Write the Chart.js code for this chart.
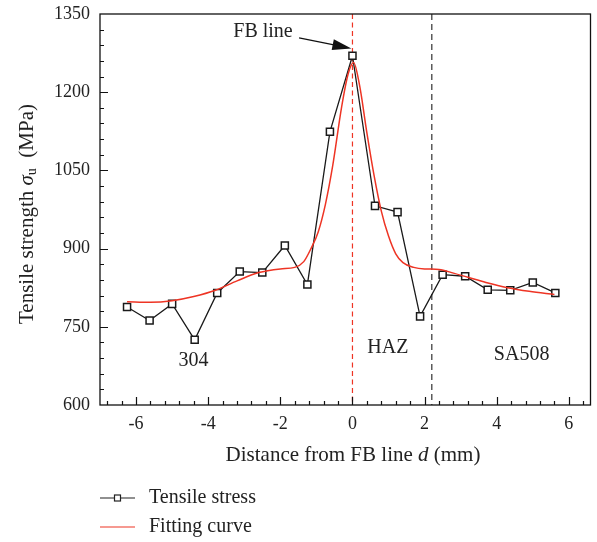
<!DOCTYPE html>
<html>
<head>
<meta charset="utf-8">
<script src="https://cdn.jsdelivr.net/npm/chart.js@4.4.0/dist/chart.umd.min.js"></script>
<style>
  html, body { margin: 0; padding: 0; background: #fff; }
  #wrap { width: 597px; height: 542px; }
</style>
</head>
<body>
<div id="wrap"><canvas id="chart" width="597" height="542"></canvas></div>
<script>
// measured tensile strength across the joint
const distance = [-6.25, -5.625, -5.0, -4.375, -3.75, -3.125, -2.5, -1.875, -1.25, -0.625, 0,
                  0.625, 1.25, 1.875, 2.5, 3.125, 3.75, 4.375, 5.0, 5.625];
const tensile = [788, 762, 794, 725, 815, 856, 854, 906, 831, 1124, 1270,
                 982, 970, 770, 850, 847, 821, 820, 835, 815];

// fitting curve
const fitX = [-6.25, -5.6, -5.0, -4.4, -3.8, -3.2, -2.6, -2.0, -1.6, -1.35, -1.15, -0.95, -0.75, -0.55, -0.3, -0.12, 0.03,
              0.2, 0.4, 0.6, 0.8, 1.0, 1.2, 1.4, 1.7, 2.0, 2.4, 2.8, 3.2, 3.7, 4.3, 4.9, 5.6];
const fitY = [798, 797, 800, 808, 820, 838, 854, 861, 864, 875, 900, 932, 985, 1058, 1172, 1235, 1257,
              1212, 1122, 1040, 972, 924, 890, 873, 864, 861, 860, 853, 845, 835, 825, 818, 812];

const xTicks = [-6, -4, -2, 0, 2, 4, 6];
const yTicks = [600, 750, 900, 1050, 1200, 1350];
const fbLineX = 0;
const hazEdgeX = 2.2;

const FONT = '"Liberation Serif", "Times New Roman", serif';
const RED = "#ee3424";
const TXT = "20px " + FONT;
const TITLE = "21px " + FONT;

const decorations = {
  id: "decorations",
  beforeDatasetsDraw(chart) {
    const { ctx, chartArea: a, scales: { x } } = chart;
    ctx.save();
    ctx.lineWidth = 1.2;
    ctx.setLineDash([5, 3.5]);
    ctx.strokeStyle = RED;
    let px = x.getPixelForValue(fbLineX);
    ctx.beginPath(); ctx.moveTo(px, a.top); ctx.lineTo(px, a.bottom); ctx.stroke();
    ctx.strokeStyle = "#333";
    ctx.setLineDash([6, 4]);
    px = x.getPixelForValue(hazEdgeX);
    ctx.beginPath(); ctx.moveTo(px, a.top); ctx.lineTo(px, a.bottom); ctx.stroke();
    ctx.restore();
  },
  afterDraw(chart) {
    const { ctx, chartArea: a, scales: { x, y } } = chart;
    ctx.save();
    // frame
    ctx.strokeStyle = "#111";
    ctx.lineWidth = 1.3;
    ctx.strokeRect(a.left, a.top, a.right - a.left, a.bottom - a.top);

    // inward ticks
    ctx.lineWidth = 1.2;
    ctx.beginPath();
    for (let v = -6.8; v < 6.5; v += 0.4) {
      const major = Math.abs(v / 2 - Math.round(v / 2)) < 0.01;
      const px = Math.round(x.getPixelForValue(v)) + 0.5;
      ctx.moveTo(px, a.bottom); ctx.lineTo(px, a.bottom - (major ? 8 : 4));
    }
    for (let v = 630; v < 1350; v += 30) {
      const major = v % 150 === 0;
      const py = Math.round(y.getPixelForValue(v)) + 0.5;
      ctx.moveTo(a.left, py); ctx.lineTo(a.left + (major ? 8 : 4), py);
    }
    ctx.stroke();

    ctx.fillStyle = "#222";
    ctx.font = TXT;
    ctx.textAlign = "center";
    ctx.textBaseline = "middle";
    ctx.fillText("304", x.getPixelForValue(-4.41), y.getPixelForValue(685));
    ctx.fillText("HAZ", x.getPixelForValue(0.98), y.getPixelForValue(710));
    ctx.fillText("SA508", x.getPixelForValue(4.69), y.getPixelForValue(697));

    // FB line label + arrow
    ctx.fillText("FB line", x.getPixelForValue(-2.48), y.getPixelForValue(1316));
    const x0 = x.getPixelForValue(-1.48), y0 = y.getPixelForValue(1304);
    const x1 = x.getPixelForValue(-0.03), y1 = y.getPixelForValue(1284);
    const ang = Math.atan2(y1 - y0, x1 - x0);
    ctx.strokeStyle = "#111";
    ctx.lineWidth = 1.3;
    ctx.beginPath(); ctx.moveTo(x0, y0); ctx.lineTo(x1 - 14 * Math.cos(ang), y1 - 14 * Math.sin(ang)); ctx.stroke();
    ctx.beginPath();
    ctx.moveTo(x1, y1);
    ctx.lineTo(x1 - 19 * Math.cos(ang) + 5.5 * Math.sin(ang), y1 - 19 * Math.sin(ang) - 5.5 * Math.cos(ang));
    ctx.lineTo(x1 - 19 * Math.cos(ang) - 5.5 * Math.sin(ang), y1 - 19 * Math.sin(ang) + 5.5 * Math.cos(ang));
    ctx.closePath();
    ctx.fillStyle = "#111";
    ctx.fill();

    // x title
    ctx.fillStyle = "#222";
    const xt = ["Distance from FB line ", "d", " (mm)"];
    const xf = [TITLE, "italic " + TITLE, TITLE];
    let widths = xt.map((t, i) => { ctx.font = xf[i]; return ctx.measureText(t).width; });
    let cx = 353 - widths.reduce((s, w) => s + w, 0) / 2;
    ctx.textAlign = "left";
    xt.forEach((t, i) => { ctx.font = xf[i]; ctx.fillText(t, cx, 455); cx += widths[i]; });

    // y title (rotated, with subscript)
    ctx.save();
    ctx.translate(27, 214);
    ctx.rotate(-Math.PI / 2);
    const parts = [
      { t: "Tensile strength ", f: TITLE, dy: 0 },
      { t: "σ", f: "italic " + TITLE, dy: 0 },
      { t: "u", f: "14px " + FONT, dy: 5 },
      { t: "  (MPa)", f: TITLE, dy: 0 }
    ];
    widths = parts.map(p => { ctx.font = p.f; return ctx.measureText(p.t).width; });
    cx = -widths.reduce((s, w) => s + w, 0) / 2;
    parts.forEach((p, i) => { ctx.font = p.f; ctx.fillText(p.t, cx, p.dy); cx += widths[i]; });
    ctx.restore();

    // legend
    const lx = 100, ly1 = 498, ly2 = 527;
    ctx.strokeStyle = "#222";
    ctx.lineWidth = 1.2;
    ctx.beginPath(); ctx.moveTo(lx, ly1); ctx.lineTo(lx + 35, ly1); ctx.stroke();
    ctx.fillStyle = "#fff";
    ctx.fillRect(lx + 14.5, ly1 - 3, 6, 6);
    ctx.strokeRect(lx + 14.5, ly1 - 3, 6, 6);
    ctx.strokeStyle = RED;
    ctx.beginPath(); ctx.moveTo(lx, ly2); ctx.lineTo(lx + 35, ly2); ctx.stroke();
    ctx.fillStyle = "#222";
    ctx.font = TXT;
    ctx.fillText("Tensile stress", 149, ly1);
    ctx.fillText("Fitting curve", 149, ly2);
    ctx.restore();
  }
};

new Chart(document.getElementById("chart"), {
  type: "scatter",
  data: {
    datasets: [
      {
        label: "Fitting curve",
        data: fitX.map((v, i) => ({ x: v, y: fitY[i] })),
        showLine: true,
        borderColor: RED,
        borderWidth: 1.5,
        pointRadius: 0,
        cubicInterpolationMode: "monotone",
        order: 0
      },
      {
        label: "Tensile stress",
        data: distance.map((v, i) => ({ x: v, y: tensile[i] })),
        showLine: true,
        borderColor: "#1a1a1a",
        borderWidth: 1.3,
        pointStyle: "rect",
        pointRadius: 5,
        pointBorderWidth: 1.5,
        pointBackgroundColor: "#fff",
        pointBorderColor: "#1a1a1a",
        order: 1
      }
    ]
  },
  options: {
    responsive: false,
    animation: false,
    layout: { padding: { left: 0, right: 6, top: 14, bottom: 0 } },
    plugins: { legend: { display: false }, tooltip: { enabled: false } },
    scales: {
      x: {
        type: "linear",
        min: -7,
        max: 6.6,
        afterBuildTicks: s => { s.ticks = xTicks.map(v => ({ value: v })); },
        afterFit: s => { s.height = 137; },
        grid: { display: false, drawTicks: false },
        border: { display: false },
        ticks: { color: "#222", padding: 8, font: { family: FONT, size: 18 }, callback: v => String(v) }
      },
      y: {
        min: 600,
        max: 1350,
        afterBuildTicks: s => { s.ticks = yTicks.map(v => ({ value: v })); },
        afterFit: s => { s.width = 100; s.paddingTop = 0; },
        grid: { display: false, drawTicks: false },
        border: { display: false },
        ticks: { color: "#222", padding: 10, font: { family: FONT, size: 18, lineHeight: 1 }, callback: v => String(v) }
      }
    }
  },
  plugins: [decorations]
});
</script>
</body>
</html>
